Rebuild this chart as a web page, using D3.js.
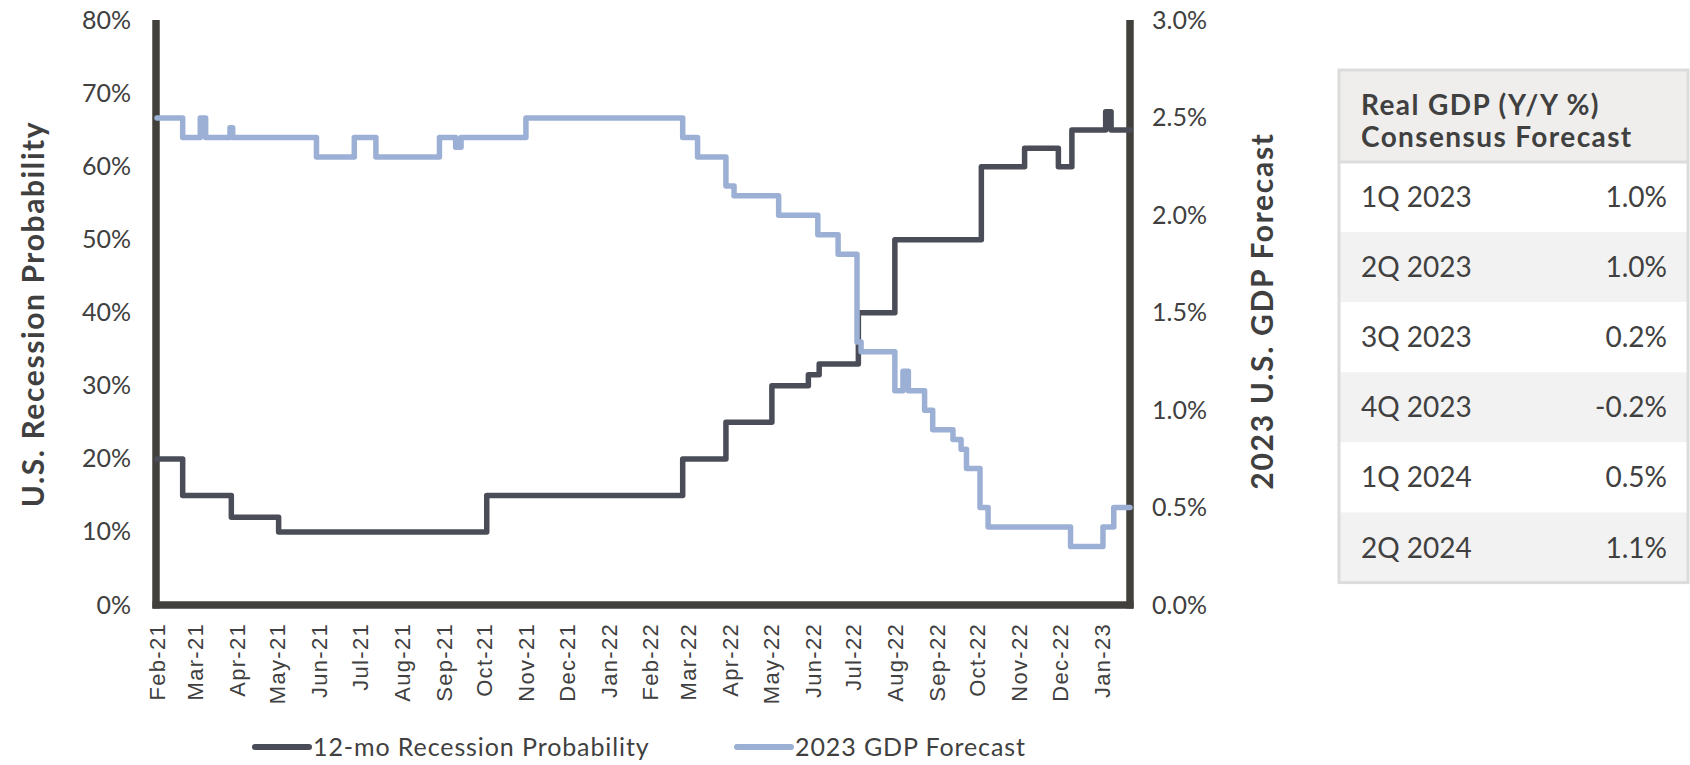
<!DOCTYPE html>
<meta charset="utf-8">
<title>Recession Probability vs 2023 GDP Forecast</title>
<style>
  body { margin: 0; background: #fff; }
  svg text { font-family: Lato, "Open Sans", sans-serif; fill: #404040; }
  .xaxis text { font-family: "Liberation Sans", Arial, sans-serif; letter-spacing: 1.3px; }
</style>
<body>
<script src="https://d3js.org/d3.v7.min.js"></script>
<div id="chart"></div>
<script>
// 12-mo recession probability (%), one entry per change
var recDates  = ["2021-02-01","2021-02-20","2021-03-28","2021-05-02","2021-10-03","2022-02-25",
                 "2022-03-29","2022-05-02","2022-05-29","2022-06-06","2022-07-05","2022-08-01",
                 "2022-10-04","2022-11-05","2022-11-30","2022-12-10","2023-01-04","2023-01-08","2023-01-22"];
var recValues = [20, 15, 12, 10, 15, 20, 25, 30, 31.5, 33, 40, 50, 60, 62.5, 60, 65, 67.5, 65, 65];

// 2023 GDP forecast (%), one entry per change
var gdpDates  = ["2021-02-01","2021-02-20","2021-03-05","2021-03-09","2021-03-27","2021-03-29",
                 "2021-05-30","2021-06-27","2021-07-13","2021-08-29","2021-09-10","2021-09-14",
                 "2021-11-01","2022-02-25","2022-03-08","2022-03-29","2022-04-04","2022-05-07",
                 "2022-06-05","2022-06-20","2022-07-04","2022-07-07","2022-08-01","2022-08-07",
                 "2022-08-11","2022-08-23","2022-08-29","2022-09-13","2022-09-19","2022-09-23",
                 "2022-10-03","2022-10-09","2022-12-09","2023-01-02","2023-01-10","2023-01-22"];
var gdpValues = [2.5, 2.4, 2.5, 2.4, 2.45, 2.4, 2.3, 2.4, 2.3, 2.4, 2.35, 2.4,
                 2.5, 2.4, 2.3, 2.15, 2.1, 2.0, 1.9, 1.8, 1.35, 1.3, 1.1, 1.2,
                 1.1, 1.0, 0.9, 0.85, 0.8, 0.7, 0.5, 0.4, 0.3, 0.4, 0.5, 0.5];

var monthLabels = ["Feb-21","Mar-21","Apr-21","May-21","Jun-21","Jul-21","Aug-21","Sep-21",
                   "Oct-21","Nov-21","Dec-21","Jan-22","Feb-22","Mar-22","Apr-22","May-22",
                   "Jun-22","Jul-22","Aug-22","Sep-22","Oct-22","Nov-22","Dec-22","Jan-23"];
var leftTicks  = [0, 10, 20, 30, 40, 50, 60, 70, 80];
var rightTicks = [0, 0.5, 1, 1.5, 2, 2.5, 3];

var seriesNames = ["12-mo Recession Probability", "2023 GDP Forecast"];

var tableHeader   = ["Real GDP (Y/Y %)", "Consensus Forecast"];
var tableQuarters = ["1Q 2023", "2Q 2023", "3Q 2023", "4Q 2023", "1Q 2024", "2Q 2024"];
var tableValues   = ["1.0%", "1.0%", "0.2%", "-0.2%", "0.5%", "1.1%"];

var darkColor = "#4a4d57", blueColor = "#9cb0d5", axisColor = "#42403c";

var W = 1690, H = 765;
var plot = {left: 156, right: 1130, top: 20.5, bottom: 605};

var svg = d3.select("#chart").append("svg")
    .attr("width", W).attr("height", H);

var parse = d3.utcParse("%Y-%m-%d");
var rec = recDates.map(function(d, i) { return {date: parse(d), value: recValues[i]}; });
var gdp = gdpDates.map(function(d, i) { return {date: parse(d), value: gdpValues[i]}; });

var x = d3.scaleUtc()
    .domain([parse("2021-02-01"), parse("2023-01-22")])
    .range([plot.left + 1, plot.right]);
var yL = d3.scaleLinear().domain([0, 80]).range([plot.bottom, plot.top]);
var yR = d3.scaleLinear().domain([0, 3]).range([plot.bottom, plot.top]);

// axes
var gL = svg.append("g")
    .attr("transform", "translate(" + plot.left + ",0)")
    .call(d3.axisLeft(yL).tickValues(leftTicks).tickFormat(function(d) { return d + "%"; })
      .tickSize(0).tickPadding(25));
var gR = svg.append("g")
    .attr("transform", "translate(" + plot.right + ",0)")
    .call(d3.axisRight(yR).tickValues(rightTicks)
      .tickFormat(function(d) { return d.toFixed(1) + "%"; }).tickSize(0).tickPadding(22));

var monthDates = d3.utcMonth.range(parse("2021-02-01"), parse("2023-01-02"));
var gX = svg.append("g")
    .attr("class", "xaxis")
    .attr("transform", "translate(0," + plot.bottom + ")")
    .call(d3.axisBottom(x).tickValues(monthDates)
      .tickFormat(function(d, i) { return monthLabels[i]; }).tickSize(0));
gX.selectAll("text")
    .attr("transform", "rotate(-90)")
    .attr("x", -18).attr("y", 0).attr("dy", "0.35em")
    .style("text-anchor", "end");

[gL, gR].forEach(function(g) {
  g.selectAll("text").style("font-size", "25px");
});
gX.selectAll("text").style("font-size", "22px");

[gL, gR, gX].forEach(function(g) {
  g.select(".domain").attr("stroke", axisColor).attr("stroke-width", 7.5);
});
gL.select(".domain").attr("d", "M0," + (plot.top - 0.5) + "V" + (plot.bottom + 3.5));
gR.select(".domain").attr("d", "M0," + (plot.top - 0.5) + "V" + (plot.bottom + 3.5));
gX.select(".domain").attr("d", "M" + (plot.left - 3.5) + ",0H" + (plot.right + 3.5));

// series lines
var lineL = d3.line().x(function(d) { return x(d.date); }).y(function(d) { return yL(d.value); })
    .curve(d3.curveStepAfter);
var lineR = d3.line().x(function(d) { return x(d.date); }).y(function(d) { return yR(d.value); })
    .curve(d3.curveStepAfter);

svg.append("path").datum(rec)
    .attr("d", lineL).attr("fill", "none").attr("stroke", darkColor)
    .attr("stroke-width", 5.5).attr("stroke-linejoin", "round").attr("stroke-linecap", "round");
svg.append("path").datum(gdp)
    .attr("d", lineR).attr("fill", "none").attr("stroke", blueColor)
    .attr("stroke-width", 5.5).attr("stroke-linejoin", "round").attr("stroke-linecap", "round");

// axis titles
svg.append("text")
    .attr("transform", "translate(32,314) rotate(-90)")
    .attr("text-anchor", "middle").attr("dominant-baseline", "central")
    .style("font-size", "30px").style("font-weight", "bold").style("letter-spacing", "1.6px")
    .text("U.S. Recession Probability");
svg.append("text")
    .attr("transform", "translate(1261,311) rotate(-90)")
    .attr("text-anchor", "middle").attr("dominant-baseline", "central")
    .style("font-size", "30px").style("font-weight", "bold").style("letter-spacing", "1.7px")
    .text("2023 U.S. GDP Forecast");

// legend
var legend = svg.append("g").attr("transform", "translate(0,747)");
var legendItems = [{name: seriesNames[0], color: darkColor, x: 255},
                   {name: seriesNames[1], color: blueColor, x: 737}];
var li = legend.selectAll("g").data(legendItems).enter().append("g")
    .attr("transform", function(d) { return "translate(" + d.x + ",0)"; });
li.append("line").attr("x1", 0).attr("x2", 54).attr("y1", 0).attr("y2", 0)
    .attr("stroke", function(d) { return d.color; }).attr("stroke-width", 6)
    .attr("stroke-linecap", "round");
li.append("text").attr("x", 58).attr("dy", "0.35em")
    .style("font-size", "25px").style("letter-spacing", "0.9px")
    .text(function(d) { return d.name; });

// forecast table
var tbl = {left: 1339, right: 1688, top: 70, headH: 92, rowH: 70.1};
var tg = svg.append("g");
tg.append("rect")
    .attr("x", tbl.left).attr("y", tbl.top)
    .attr("width", tbl.right - tbl.left).attr("height", tbl.headH)
    .attr("fill", "#efeeed");
tg.selectAll("rect.row").data(tableQuarters).enter().append("rect")
    .attr("class", "row")
    .attr("x", tbl.left)
    .attr("y", function(d, i) { return tbl.top + tbl.headH + i * tbl.rowH; })
    .attr("width", tbl.right - tbl.left).attr("height", tbl.rowH)
    .attr("fill", function(d, i) { return i % 2 ? "#f2f2f2" : "#ffffff"; });
tg.append("line")
    .attr("x1", tbl.left).attr("x2", tbl.right)
    .attr("y1", tbl.top + tbl.headH).attr("y2", tbl.top + tbl.headH)
    .attr("stroke", "#dcdcdc").attr("stroke-width", 3);
tg.append("rect")
    .attr("x", tbl.left).attr("y", tbl.top)
    .attr("width", tbl.right - tbl.left).attr("height", tbl.headH + tableQuarters.length * tbl.rowH)
    .attr("fill", "none").attr("stroke", "#dcdcdc").attr("stroke-width", 3);
tg.selectAll("text.head").data(tableHeader).enter().append("text")
    .attr("class", "head")
    .attr("x", tbl.left + 22)
    .attr("y", function(d, i) { return tbl.top + 45 + i * 32; })
    .style("font-size", "28px").style("font-weight", "bold").style("letter-spacing", "1.4px")
    .text(function(d) { return d; });
tg.selectAll("text.q").data(tableQuarters).enter().append("text")
    .attr("class", "q")
    .attr("x", tbl.left + 22)
    .attr("y", function(d, i) { return tbl.top + tbl.headH + i * tbl.rowH + 45; })
    .style("font-size", "28px")
    .text(function(d) { return d; });
tg.selectAll("text.v").data(tableValues).enter().append("text")
    .attr("class", "v")
    .attr("x", tbl.right - 21).attr("text-anchor", "end")
    .attr("y", function(d, i) { return tbl.top + tbl.headH + i * tbl.rowH + 45; })
    .style("font-size", "28px")
    .text(function(d) { return d; });
</script>
</body>
